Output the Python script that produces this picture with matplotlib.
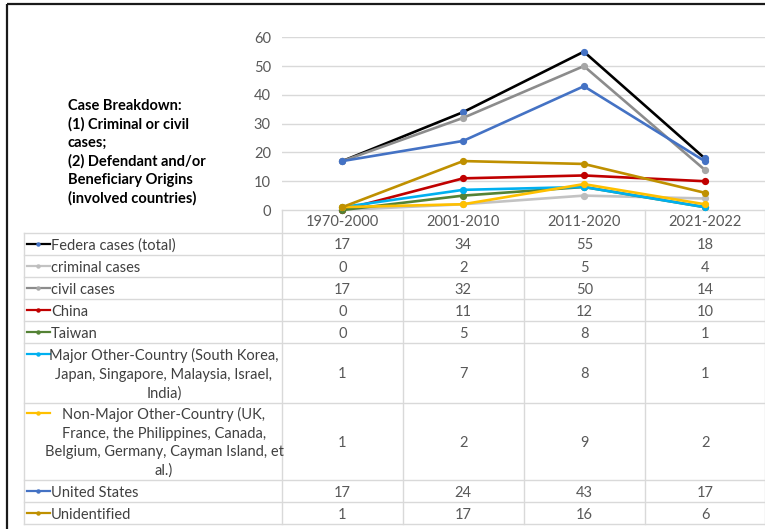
import matplotlib
matplotlib.use("Agg")
import matplotlib.pyplot as plt
from matplotlib.lines import Line2D

plt.rcParams['font.family'] = ['Lato', 'DejaVu Sans']

# ---- data -------------------------------------------------------------
periods = ['1970-2000', '2001-2010', '2011-2020', '2021-2022']

federal_total = [17, 34, 55, 18]
criminal_cases = [0, 2, 5, 4]
civil_cases = [17, 32, 50, 14]
china = [0, 11, 12, 10]
taiwan = [0, 5, 8, 1]
major_other = [1, 7, 8, 1]
non_major_other = [1, 2, 9, 2]
united_states = [17, 24, 43, 17]
unidentified = [1, 17, 16, 6]

series_labels = [
    ['Federa cases (total)'],
    ['criminal cases'],
    ['civil cases'],
    ['China'],
    ['Taiwan'],
    ['Major Other-Country (South Korea,', 'Japan, Singapore, Malaysia, Israel,', 'India)'],
    ['Non-Major Other-Country (UK,', 'France, the Philippines, Canada,',
     'Belgium, Germany, Cayman Island, et', 'al.)'],
    ['United States'],
    ['Unidentified'],
]
series_values = [federal_total, criminal_cases, civil_cases, china, taiwan,
                 major_other, non_major_other, united_states, unidentified]
line_colors = ['#000000', '#C3C3C3', '#8C8C8C', '#C00000', '#548235',
               '#00B0F0', '#FFC000', '#4472C4', '#BF9000']
marker_colors = ['#4472C4', '#BDBDBD', '#A6A6A6', '#C00000', '#548235',
                 '#00B0F0', '#FFC000', '#4472C4', '#BF9000']

title_lines = ['Case Breakdown:', '(1) Criminal or civil', 'cases;',
               '(2) Defendant and/or', 'Beneficiary Origins',
               '(involved countries)']

# ---- layout (pixels) --------------------------------------------------
W, H = 765, 529
plot_left, plot_right = 282, 765
plot_top, plot_zero = 37.3, 210
table_left = 24
col_edges = [282, 402.7, 523.7, 645.3, 765]
row_edges = [232.7, 255, 277.3, 299.3, 321.3, 343.3, 402.7, 480, 502.3, 524.3]
grid_gray = '#D9D9D9'
text_gray = '#404040'
num_gray = '#595959'
fs = 10.5
dy = 1.5  # small downward nudge for table text

fig = plt.figure(figsize=(W / 100, H / 100), dpi=100)
fig.patch.set_facecolor('white')

# overlay in pixel coordinates for the data table, title and frame
ov = fig.add_axes([0, 0, 1, 1])
ov.set_xlim(0, W)
ov.set_ylim(H, 0)
ov.axis('off')

# frame
ov.plot([7, 7], [3.5, H], color='#1A1A1A', lw=1.6, solid_capstyle='butt')
ov.plot([7, W], [3.5, 3.5], color='#1A1A1A', lw=1.6, solid_capstyle='butt')

# title block
for i, t in enumerate(title_lines):
    ov.text(68, 106 + i * 18.4, t, fontsize=fs, fontweight='bold',
            color='#000000', ha='left', va='center')

# table grid
ov.plot([plot_left, W], [plot_zero, plot_zero], color=grid_gray, lw=1)
for y in row_edges:
    ov.plot([table_left, W], [y, y], color=grid_gray, lw=1)
ov.plot([table_left, table_left], [row_edges[0], row_edges[-1]], color=grid_gray, lw=1)
for x in col_edges:
    ov.plot([x, x], [plot_zero, row_edges[-1]], color=grid_gray, lw=1)

col_centers = [(a + b) / 2 for a, b in zip(col_edges[:-1], col_edges[1:])]

# category labels
for cx, p in zip(col_centers, periods):
    ov.text(cx, 221 + dy, p, fontsize=fs, color=num_gray, ha='center', va='center')

# table rows
line_step = 18.6
for r, (lab, vals, lc, mc) in enumerate(zip(series_labels, series_values,
                                             line_colors, marker_colors)):
    top, bot = row_edges[r], row_edges[r + 1]
    cy = (top + bot) / 2
    n = len(lab)
    first_y = cy - (n - 1) * line_step / 2
    # legend key
    ov.add_line(Line2D([27, 50], [first_y, first_y], color=lc, lw=1.6))
    ov.add_line(Line2D([38.5], [first_y], marker='o', markersize=3.2,
                       color=mc, markeredgewidth=0))
    if n == 1:
        ov.text(51, cy + dy, lab[0], fontsize=fs, color=text_gray,
                ha='left', va='center')
    else:
        for k, t in enumerate(lab):
            ov.text(164, first_y + k * line_step + dy, t, fontsize=fs,
                    color=text_gray, ha='center', va='center')
    for cx, v in zip(col_centers, vals):
        ov.text(cx, cy + dy, str(v), fontsize=fs, color=num_gray,
                ha='center', va='center')

# ---- line chart -------------------------------------------------------
ax = fig.add_axes([plot_left / W, 1 - plot_zero / H,
                   (plot_right - plot_left) / W, (plot_zero - plot_top) / H])
ax.set_facecolor('none')
x = list(range(len(periods)))
for vals, lc, mc in zip(series_values, line_colors, marker_colors):
    ax.plot(x, vals, color=lc, lw=1.9, marker='o', markersize=4.2,
            markerfacecolor=mc, markeredgecolor=mc, clip_on=False)

ax.set_xlim(-0.5, len(periods) - 0.5)
ax.set_ylim(0, 60)
ax.set_yticks(range(0, 61, 10))
ax.set_xticks([])
for s in ax.spines.values():
    s.set_visible(False)
ax.tick_params(axis='y', length=0, pad=8, labelsize=fs, labelcolor=num_gray)
ax.grid(axis='y', color=grid_gray, lw=1)
ax.set_axisbelow(True)
ax.yaxis.get_gridlines()[0].set_visible(False)

fig.savefig('out.png', dpi=100, facecolor='white')
